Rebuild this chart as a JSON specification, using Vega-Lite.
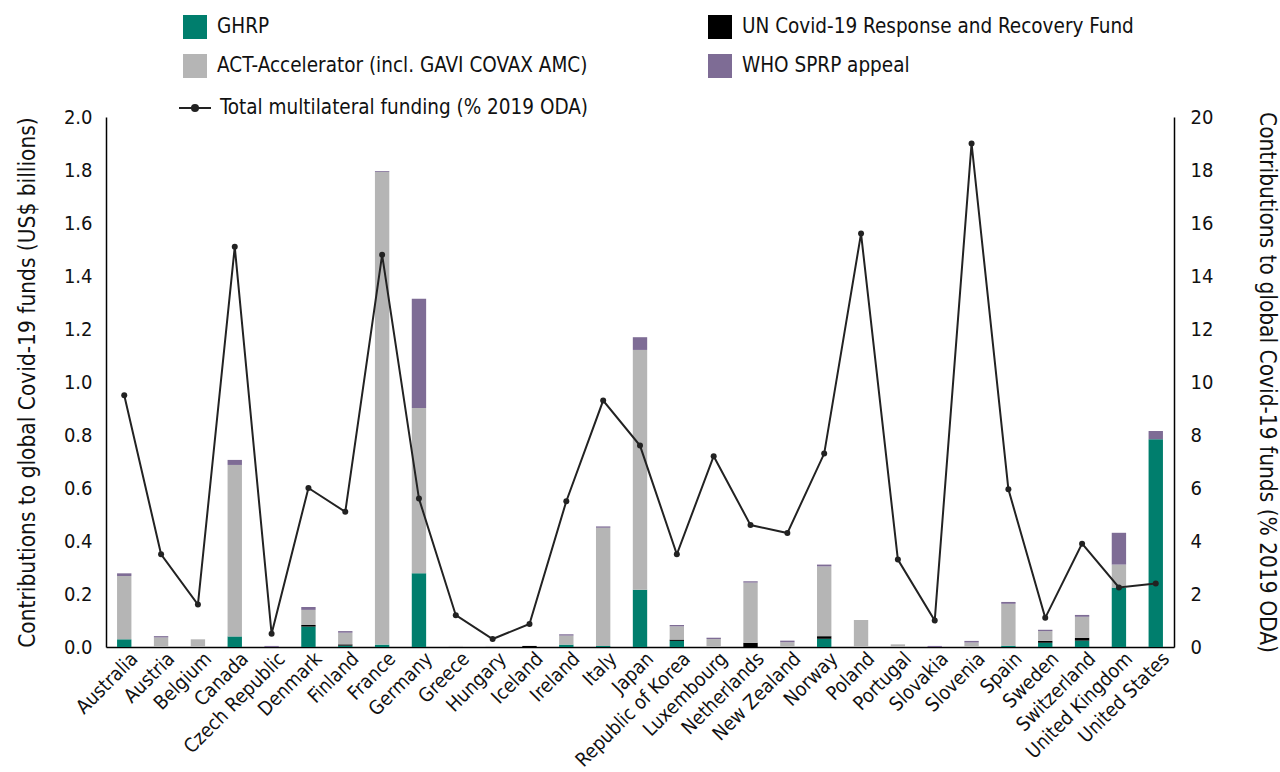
{
  "$schema": "https://vega.github.io/schema/vega-lite/v6.json",
  "width": 1068,
  "height": 530,
  "autosize": {"type": "none"},
  "padding": {"left": 106, "top": 117, "right": 106, "bottom": 125},
  "background": "white",
  "config": {
    "font": "DejaVu Sans Condensed",
    "view": {"stroke": null},
    "axis": {
      "grid": false,
      "ticks": false,
      "domainColor": "#000000",
      "domainWidth": 1.5,
      "labelColor": "#111111",
      "titleColor": "#111111",
      "labelFontSize": 20,
      "titleFontSize": 22.5,
      "titleFontWeight": "normal",
      "labelFont": "DejaVu Sans Condensed",
      "titleFont": "DejaVu Sans Condensed"
    },
    "legend": {
      "labelFont": "DejaVu Sans Condensed",
      "labelFontSize": 20.5,
      "labelColor": "#111111",
      "labelLimit": 0
    }
  },
  "datasets": {
    "bars": [
      {"country": "Australia", "fund": "GHRP", "value": 0.029},
      {"country": "Australia", "fund": "UN Covid-19 Response and Recovery Fund", "value": 0},
      {"country": "Australia", "fund": "ACT-Accelerator (incl. GAVI COVAX AMC)", "value": 0.239},
      {"country": "Australia", "fund": "WHO SPRP appeal", "value": 0.010},
      {"country": "Austria", "fund": "GHRP", "value": 0},
      {"country": "Austria", "fund": "UN Covid-19 Response and Recovery Fund", "value": 0},
      {"country": "Austria", "fund": "ACT-Accelerator (incl. GAVI COVAX AMC)", "value": 0.036},
      {"country": "Austria", "fund": "WHO SPRP appeal", "value": 0.005},
      {"country": "Belgium", "fund": "GHRP", "value": 0},
      {"country": "Belgium", "fund": "UN Covid-19 Response and Recovery Fund", "value": 0},
      {"country": "Belgium", "fund": "ACT-Accelerator (incl. GAVI COVAX AMC)", "value": 0.029},
      {"country": "Belgium", "fund": "WHO SPRP appeal", "value": 0},
      {"country": "Canada", "fund": "GHRP", "value": 0.040},
      {"country": "Canada", "fund": "UN Covid-19 Response and Recovery Fund", "value": 0},
      {"country": "Canada", "fund": "ACT-Accelerator (incl. GAVI COVAX AMC)", "value": 0.647},
      {"country": "Canada", "fund": "WHO SPRP appeal", "value": 0.019},
      {"country": "Czech Republic", "fund": "GHRP", "value": 0},
      {"country": "Czech Republic", "fund": "UN Covid-19 Response and Recovery Fund", "value": 0},
      {"country": "Czech Republic", "fund": "ACT-Accelerator (incl. GAVI COVAX AMC)", "value": 0},
      {"country": "Czech Republic", "fund": "WHO SPRP appeal", "value": 0.004},
      {"country": "Denmark", "fund": "GHRP", "value": 0.077},
      {"country": "Denmark", "fund": "UN Covid-19 Response and Recovery Fund", "value": 0.006},
      {"country": "Denmark", "fund": "ACT-Accelerator (incl. GAVI COVAX AMC)", "value": 0.057},
      {"country": "Denmark", "fund": "WHO SPRP appeal", "value": 0.011},
      {"country": "Finland", "fund": "GHRP", "value": 0.005},
      {"country": "Finland", "fund": "UN Covid-19 Response and Recovery Fund", "value": 0.005},
      {"country": "Finland", "fund": "ACT-Accelerator (incl. GAVI COVAX AMC)", "value": 0.044},
      {"country": "Finland", "fund": "WHO SPRP appeal", "value": 0.006},
      {"country": "France", "fund": "GHRP", "value": 0.009},
      {"country": "France", "fund": "UN Covid-19 Response and Recovery Fund", "value": 0},
      {"country": "France", "fund": "ACT-Accelerator (incl. GAVI COVAX AMC)", "value": 1.784},
      {"country": "France", "fund": "WHO SPRP appeal", "value": 0.003},
      {"country": "Germany", "fund": "GHRP", "value": 0.278},
      {"country": "Germany", "fund": "UN Covid-19 Response and Recovery Fund", "value": 0},
      {"country": "Germany", "fund": "ACT-Accelerator (incl. GAVI COVAX AMC)", "value": 0.624},
      {"country": "Germany", "fund": "WHO SPRP appeal", "value": 0.412},
      {"country": "Greece", "fund": "GHRP", "value": 0},
      {"country": "Greece", "fund": "UN Covid-19 Response and Recovery Fund", "value": 0},
      {"country": "Greece", "fund": "ACT-Accelerator (incl. GAVI COVAX AMC)", "value": 0.004},
      {"country": "Greece", "fund": "WHO SPRP appeal", "value": 0},
      {"country": "Hungary", "fund": "GHRP", "value": 0},
      {"country": "Hungary", "fund": "UN Covid-19 Response and Recovery Fund", "value": 0},
      {"country": "Hungary", "fund": "ACT-Accelerator (incl. GAVI COVAX AMC)", "value": 0.004},
      {"country": "Hungary", "fund": "WHO SPRP appeal", "value": 0},
      {"country": "Iceland", "fund": "GHRP", "value": 0},
      {"country": "Iceland", "fund": "UN Covid-19 Response and Recovery Fund", "value": 0.004},
      {"country": "Iceland", "fund": "ACT-Accelerator (incl. GAVI COVAX AMC)", "value": 0},
      {"country": "Iceland", "fund": "WHO SPRP appeal", "value": 0},
      {"country": "Ireland", "fund": "GHRP", "value": 0.009},
      {"country": "Ireland", "fund": "UN Covid-19 Response and Recovery Fund", "value": 0},
      {"country": "Ireland", "fund": "ACT-Accelerator (incl. GAVI COVAX AMC)", "value": 0.034},
      {"country": "Ireland", "fund": "WHO SPRP appeal", "value": 0.005},
      {"country": "Italy", "fund": "GHRP", "value": 0.004},
      {"country": "Italy", "fund": "UN Covid-19 Response and Recovery Fund", "value": 0},
      {"country": "Italy", "fund": "ACT-Accelerator (incl. GAVI COVAX AMC)", "value": 0.446},
      {"country": "Italy", "fund": "WHO SPRP appeal", "value": 0.005},
      {"country": "Japan", "fund": "GHRP", "value": 0.216},
      {"country": "Japan", "fund": "UN Covid-19 Response and Recovery Fund", "value": 0},
      {"country": "Japan", "fund": "ACT-Accelerator (incl. GAVI COVAX AMC)", "value": 0.905},
      {"country": "Japan", "fund": "WHO SPRP appeal", "value": 0.048},
      {"country": "Republic of Korea", "fund": "GHRP", "value": 0.023},
      {"country": "Republic of Korea", "fund": "UN Covid-19 Response and Recovery Fund", "value": 0.005},
      {"country": "Republic of Korea", "fund": "ACT-Accelerator (incl. GAVI COVAX AMC)", "value": 0.050},
      {"country": "Republic of Korea", "fund": "WHO SPRP appeal", "value": 0.005},
      {"country": "Luxembourg", "fund": "GHRP", "value": 0},
      {"country": "Luxembourg", "fund": "UN Covid-19 Response and Recovery Fund", "value": 0},
      {"country": "Luxembourg", "fund": "ACT-Accelerator (incl. GAVI COVAX AMC)", "value": 0.030},
      {"country": "Luxembourg", "fund": "WHO SPRP appeal", "value": 0.005},
      {"country": "Netherlands", "fund": "GHRP", "value": 0},
      {"country": "Netherlands", "fund": "UN Covid-19 Response and Recovery Fund", "value": 0.016},
      {"country": "Netherlands", "fund": "ACT-Accelerator (incl. GAVI COVAX AMC)", "value": 0.227},
      {"country": "Netherlands", "fund": "WHO SPRP appeal", "value": 0.005},
      {"country": "New Zealand", "fund": "GHRP", "value": 0},
      {"country": "New Zealand", "fund": "UN Covid-19 Response and Recovery Fund", "value": 0},
      {"country": "New Zealand", "fund": "ACT-Accelerator (incl. GAVI COVAX AMC)", "value": 0.018},
      {"country": "New Zealand", "fund": "WHO SPRP appeal", "value": 0.006},
      {"country": "Norway", "fund": "GHRP", "value": 0.031},
      {"country": "Norway", "fund": "UN Covid-19 Response and Recovery Fund", "value": 0.010},
      {"country": "Norway", "fund": "ACT-Accelerator (incl. GAVI COVAX AMC)", "value": 0.263},
      {"country": "Norway", "fund": "WHO SPRP appeal", "value": 0.007},
      {"country": "Poland", "fund": "GHRP", "value": 0},
      {"country": "Poland", "fund": "UN Covid-19 Response and Recovery Fund", "value": 0},
      {"country": "Poland", "fund": "ACT-Accelerator (incl. GAVI COVAX AMC)", "value": 0.102},
      {"country": "Poland", "fund": "WHO SPRP appeal", "value": 0},
      {"country": "Portugal", "fund": "GHRP", "value": 0},
      {"country": "Portugal", "fund": "UN Covid-19 Response and Recovery Fund", "value": 0},
      {"country": "Portugal", "fund": "ACT-Accelerator (incl. GAVI COVAX AMC)", "value": 0.010},
      {"country": "Portugal", "fund": "WHO SPRP appeal", "value": 0},
      {"country": "Slovakia", "fund": "GHRP", "value": 0},
      {"country": "Slovakia", "fund": "UN Covid-19 Response and Recovery Fund", "value": 0},
      {"country": "Slovakia", "fund": "ACT-Accelerator (incl. GAVI COVAX AMC)", "value": 0},
      {"country": "Slovakia", "fund": "WHO SPRP appeal", "value": 0.004},
      {"country": "Slovenia", "fund": "GHRP", "value": 0},
      {"country": "Slovenia", "fund": "UN Covid-19 Response and Recovery Fund", "value": 0},
      {"country": "Slovenia", "fund": "ACT-Accelerator (incl. GAVI COVAX AMC)", "value": 0.017},
      {"country": "Slovenia", "fund": "WHO SPRP appeal", "value": 0.006},
      {"country": "Spain", "fund": "GHRP", "value": 0.005},
      {"country": "Spain", "fund": "UN Covid-19 Response and Recovery Fund", "value": 0},
      {"country": "Spain", "fund": "ACT-Accelerator (incl. GAVI COVAX AMC)", "value": 0.158},
      {"country": "Spain", "fund": "WHO SPRP appeal", "value": 0.007},
      {"country": "Sweden", "fund": "GHRP", "value": 0.016},
      {"country": "Sweden", "fund": "UN Covid-19 Response and Recovery Fund", "value": 0.007},
      {"country": "Sweden", "fund": "ACT-Accelerator (incl. GAVI COVAX AMC)", "value": 0.037},
      {"country": "Sweden", "fund": "WHO SPRP appeal", "value": 0.005},
      {"country": "Switzerland", "fund": "GHRP", "value": 0.024},
      {"country": "Switzerland", "fund": "UN Covid-19 Response and Recovery Fund", "value": 0.011},
      {"country": "Switzerland", "fund": "ACT-Accelerator (incl. GAVI COVAX AMC)", "value": 0.079},
      {"country": "Switzerland", "fund": "WHO SPRP appeal", "value": 0.007},
      {"country": "United Kingdom", "fund": "GHRP", "value": 0.224},
      {"country": "United Kingdom", "fund": "UN Covid-19 Response and Recovery Fund", "value": 0},
      {"country": "United Kingdom", "fund": "ACT-Accelerator (incl. GAVI COVAX AMC)", "value": 0.087},
      {"country": "United Kingdom", "fund": "WHO SPRP appeal", "value": 0.120},
      {"country": "United States", "fund": "GHRP", "value": 0.784},
      {"country": "United States", "fund": "UN Covid-19 Response and Recovery Fund", "value": 0},
      {"country": "United States", "fund": "ACT-Accelerator (incl. GAVI COVAX AMC)", "value": 0},
      {"country": "United States", "fund": "WHO SPRP appeal", "value": 0.031}
    ],
    "line": [
      {"country": "Australia", "pct": 9.5},
      {"country": "Austria", "pct": 3.5},
      {"country": "Belgium", "pct": 1.6},
      {"country": "Canada", "pct": 15.1},
      {"country": "Czech Republic", "pct": 0.5},
      {"country": "Denmark", "pct": 6.0},
      {"country": "Finland", "pct": 5.1},
      {"country": "France", "pct": 14.8},
      {"country": "Germany", "pct": 5.6},
      {"country": "Greece", "pct": 1.2},
      {"country": "Hungary", "pct": 0.3},
      {"country": "Iceland", "pct": 0.87},
      {"country": "Ireland", "pct": 5.5},
      {"country": "Italy", "pct": 9.3},
      {"country": "Japan", "pct": 7.6},
      {"country": "Republic of Korea", "pct": 3.5},
      {"country": "Luxembourg", "pct": 7.2},
      {"country": "Netherlands", "pct": 4.6},
      {"country": "New Zealand", "pct": 4.3},
      {"country": "Norway", "pct": 7.3},
      {"country": "Poland", "pct": 15.6},
      {"country": "Portugal", "pct": 3.3},
      {"country": "Slovakia", "pct": 1.0},
      {"country": "Slovenia", "pct": 19.0},
      {"country": "Spain", "pct": 5.95},
      {"country": "Sweden", "pct": 1.1},
      {"country": "Switzerland", "pct": 3.9},
      {"country": "United Kingdom", "pct": 2.25},
      {"country": "United States", "pct": 2.4}
    ]
  },
  "layer": [
    {
      "data": {"name": "bars"},
      "transform": [
        {"calculate": "indexof(['GHRP', 'UN Covid-19 Response and Recovery Fund', 'ACT-Accelerator (incl. GAVI COVAX AMC)', 'WHO SPRP appeal'], datum.fund)", "as": "stackOrder"}
      ],
      "mark": {"type": "bar"},
      "encoding": {
        "x": {
          "field": "country",
          "type": "nominal",
          "sort": null,
          "scale": {"paddingInner": 0.61, "paddingOuter": 0.3},
          "axis": {"title": null, "labelAngle": -45, "labelPadding": 2, "labelFontSize": 19.5, "labelOffset": 4}
        },
        "y": {
          "field": "value",
          "type": "quantitative",
          "stack": "zero",
          "scale": {"domain": [0, 2]},
          "axis": {
            "title": "Contributions to global Covid-19 funds (US$ billions)",
            "values": [0, 0.2, 0.4, 0.6, 0.8, 1.0, 1.2, 1.4, 1.6, 1.8, 2.0],
            "format": ".1f",
            "labelPadding": 14,
            "titlePadding": 24
          }
        },
        "order": {"field": "stackOrder", "type": "quantitative", "sort": "ascending"},
        "color": {
          "field": "fund",
          "type": "nominal",
          "scale": {
            "domain": ["GHRP", "UN Covid-19 Response and Recovery Fund", "ACT-Accelerator (incl. GAVI COVAX AMC)", "WHO SPRP appeal"],
            "range": ["#007e6d", "#000000", "#b5b5b5", "#7e6c95"]
          },
          "legend": {
            "title": null,
            "orient": "none",
            "legendX": 77,
            "legendY": -102,
            "columns": 2,
            "direction": "horizontal",
            "gridAlign": "all",
            "symbolType": "square",
            "symbolSize": 576,
            "symbolStrokeWidth": 0,
            "symbolOpacity": 1,
            "labelOffset": 10,
            "rowPadding": 15,
            "columnPadding": 99
          }
        }
      }
    },
    {
      "data": {"name": "line"},
      "mark": {"type": "line", "strokeWidth": 2},
      "encoding": {
        "x": {"field": "country", "type": "nominal", "sort": null},
        "y": {
          "field": "pct",
          "type": "quantitative",
          "scale": {"domain": [0, 20]},
          "axis": {
            "orient": "right",
            "title": "Contributions to global Covid-19 funds (% 2019 ODA)",
            "values": [0, 2, 4, 6, 8, 10, 12, 14, 16, 18, 20],
            "labelPadding": 16,
            "titlePadding": 42
          }
        },
        "stroke": {
          "datum": "Total multilateral funding (% 2019 ODA)",
          "scale": {"range": ["#222222"]},
          "legend": {
            "title": null,
            "orient": "none",
            "legendX": 72,
            "legendY": -26,
            "symbolType": "M-1,0L1,0M0.19,0A0.19,0.19,0,1,1,-0.19,0A0.19,0.19,0,1,1,0.19,0",
            "symbolSize": 1024,
            "symbolStrokeWidth": 2,
            "symbolStrokeColor": "#222222",
            "symbolFillColor": "#222222",
            "labelOffset": 8
          }
        }
      }
    },
    {
      "data": {"name": "line"},
      "mark": {"type": "point", "filled": true, "size": 36, "color": "#222222", "opacity": 1},
      "encoding": {
        "x": {"field": "country", "type": "nominal", "sort": null},
        "y": {"field": "pct", "type": "quantitative", "scale": {"domain": [0, 20]}, "axis": null}
      }
    }
  ],
  "resolve": {"scale": {"y": "independent", "stroke": "independent"}}
}
